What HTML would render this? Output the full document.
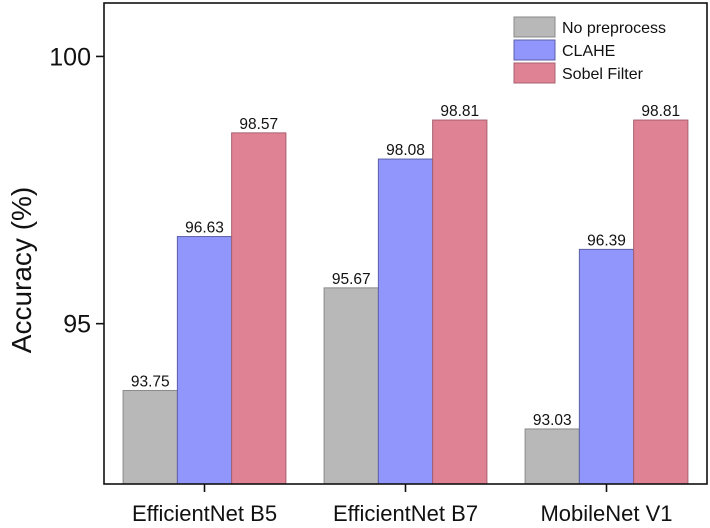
<!DOCTYPE html>
<html><head><meta charset="utf-8"><style>
html,body{margin:0;padding:0;background:#fff;}
svg{display:block;font-family:"Liberation Sans",Arial,sans-serif;}
</style></head><body>
<svg id="chart" width="710" height="528">
<g id="bars"></g>
<g id="axes"></g>
<g id="legend"></g>
</svg>
<script>
const categories = ["EfficientNet B5", "EfficientNet B7", "MobileNet V1"];
const seriesNames = ["No preprocess", "CLAHE", "Sobel Filter"];
const noPreprocess = [93.75, 95.67, 93.03];
const clahe = [96.63, 98.08, 96.39];
const sobel = [98.57, 98.81, 98.81];
const yTicks = [95, 100];
const yMin = 92, yMax = 101;

const NS = "http://www.w3.org/2000/svg";
const L = 104, R = 707, T = 3, B = 484;
const colors = ["#b8b8b8", "#9196fc", "#df8293"];
const strokes = ["#8a8a8a", "#5c5fa8", "#a86070"];
const series = [noPreprocess, clahe, sobel];
function y(v){ return B - (v - yMin) / (yMax - yMin) * (B - T); }
const band = (R - L) / categories.length;
function xc(i){ return L + band * (i + 0.5); }
const bw = band * 0.27;
function mk(tag, attrs, parent){ const e = document.createElementNS(NS, tag); for (const k in attrs) e.setAttribute(k, attrs[k]); parent.appendChild(e); return e; }

const gb = document.getElementById("bars");
series.forEach((s, si) => {
  s.forEach((v, i) => {
    const x0 = xc(i) + (si - 1.5) * bw;
    const r = mk("rect", {x: x0, y: y(v), width: bw, height: B - y(v), fill: colors[si], stroke: strokes[si], "stroke-width": 1}, gb);
    
    
    const t = mk("text", {x: x0 + bw / 2, y: y(v) - 4, "text-anchor": "middle", "font-size": 15.5, fill: "#111"}, gb);
    t.textContent = v.toFixed(2);
    
    
  });
});

const ga = document.getElementById("axes");
const frame = mk("rect", {x: L, y: T, width: R - L, height: B - T, fill: "none", stroke: "#111", "stroke-width": 1.6}, ga);


yTicks.forEach(v => {
  const ln = mk("line", {x1: L - 8, x2: L, y1: y(v), y2: y(v), stroke: "#111", "stroke-width": 1.6}, ga);
  
  
  const t = mk("text", {x: L - 13, y: y(v) + 9, "text-anchor": "end", "font-size": 25, fill: "#111"}, ga);
  t.textContent = v;
  
  
});
categories.forEach((c, i) => {
  const ln = mk("line", {x1: xc(i), x2: xc(i), y1: B, y2: B + 8, stroke: "#111", "stroke-width": 1.6}, ga);
  
  
  const t = mk("text", {x: xc(i), y: 521, "text-anchor": "middle", "font-size": 22, fill: "#111"}, ga);
  t.textContent = c;
  
  
});
const yt = mk("text", {x: 0, y: 0, transform: "translate(31,270) rotate(-90)", "text-anchor": "middle", "font-size": 28, fill: "#111"}, ga);
yt.textContent = "Accuracy (%)";



const gl = document.getElementById("legend");
seriesNames.forEach((n, si) => {
  const yy = 17 + si * 23;
  const r = mk("rect", {x: 514, y: yy, width: 41, height: 20, fill: colors[si], stroke: strokes[si], "stroke-width": 1}, gl);
  
  
  const t = mk("text", {x: 562, y: yy + 16, "font-size": 16, fill: "#111"}, gl);
  t.textContent = n;
  
  
});
</script>
</body></html>
